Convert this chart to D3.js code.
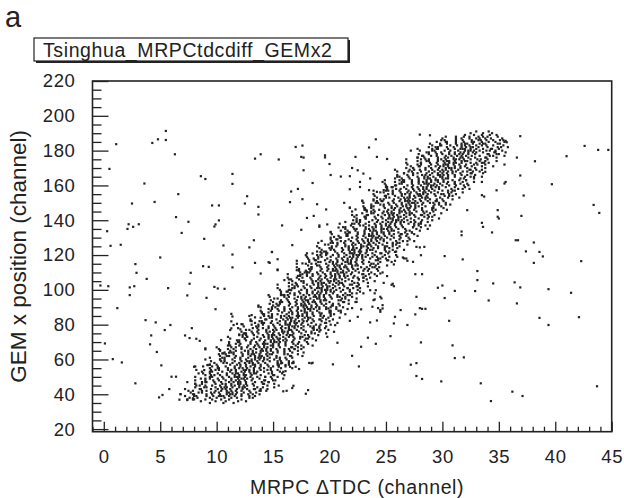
<!DOCTYPE html>
<html>
<head>
<meta charset="utf-8">
<script src="https://cdn.jsdelivr.net/npm/d3@7"></script>
<style>
body { margin: 0; background: #fff; }
svg text { font-family: "Liberation Sans", Arial, sans-serif; fill: #222; }
</style>
</head>
<body>
<div id="chart"></div>
<script>
var width = 624;
var height = 498;

let panelLabel = "a";
let histTitle = "Tsinghua_MRPCtdcdiff_GEMx2";
let xTitle = "MRPC \u0394TDC (channel)";
let yTitle = "GEM x position (channel)";

let xTickValues = [0, 5, 10, 15, 20, 25, 30, 35, 40, 45];
let yTickValues = [20, 40, 60, 80, 100, 120, 140, 160, 180, 200, 220];

// main correlation band, one row per GEM channel: [y, [ΔTDC values]]
let bandRows = [
[35,[10.6,11.5,9.4]],
[36,[8.6,9.9,10.8,11.9,12.6]],
[37,[7.9,9.0,9.6,10.4,11.1,12.2]],
[38,[8.3,9.4,10.0,10.7,11.3,11.8,12.9]],
[39,[8.2,9.1,9.7,10.2,10.6,11.1,11.6,12.2,12.9,10.4]],
[40,[8.0,9.1,9.6,10.3,10.9,11.2,11.7,12.2,12.8,11.4]],
[41,[8.7,9.5,10.2,10.9,11.1,11.8,12.4,13.0,9.8,11.4]],
[42,[9.1,9.9,10.4,10.9,11.3,11.7,12.2,12.9,13.8,7.9]],
[43,[8.6,10.1,10.5,11.2,11.8,12.3,12.7,13.3,9.5,10.8]],
[44,[9.1,9.9,10.4,10.9,11.4,12.0,12.5,13.6,10.7,12.3]],
[45,[8.5,9.6,10.3,10.8,11.6,12.0,12.4,13.3,11.3,12.7]],
[46,[8.1,9.9,10.5,11.3,11.9,12.1,12.6,13.2,14.1,10.8]],
[47,[9.8,10.4,11.1,11.5,12.1,12.6,13.4,14.6,9.0,11.9]],
[48,[9.7,10.2,11.3,12.0,12.5,13.1,14.2,10.8,11.7,15.2]],
[49,[9.0,10.1,10.6,11.3,11.9,12.2,12.7,13.2,13.8,12.4]],
[50,[9.6,10.5,11.1,11.6,12.0,12.5,13.0,13.6,14.3,11.8]],
[51,[10.3,10.9,11.6,12.0,12.6,13.1,13.9,15.1,9.5,12.4]],
[52,[10.1,10.9,11.4,11.9,12.4,13.0,13.5,14.6,11.7,13.3]],
[53,[9.4,10.5,11.2,11.7,12.5,12.9,13.3,14.2,12.2,13.6]],
[54,[10.2,11.0,11.7,12.4,12.6,13.3,13.9,14.5,11.3,12.9]],
[55,[10.1,11.6,12.0,12.7,13.3,13.8,14.2,14.8,11.0,12.3]],
[56,[10.8,11.6,12.1,12.6,13.0,13.4,13.9,14.6,15.5,9.6]],
[57,[9.4,11.2,11.8,12.6,13.2,13.4,13.9,14.5,15.4,12.1]],
[58,[10.9,11.4,12.5,13.2,13.7,14.3,15.4,12.0,12.9,16.4]],
[59,[10.7,11.6,12.2,12.7,13.1,13.6,14.1,14.7,15.4,12.9]],
[60,[10.3,11.4,12.1,12.6,13.4,13.8,14.2,15.1,13.1,14.5]],
[61,[10.5,11.6,12.1,12.8,13.4,13.7,14.2,14.7,15.3,13.9]],
[62,[11.7,12.3,13.0,13.4,14.0,14.5,15.3,16.5,10.9,13.8]],
[63,[11.5,12.3,12.8,13.3,13.8,14.4,14.9,16.0,13.1,14.7]],
[64,[11.3,12.8,13.2,13.9,14.5,15.0,15.4,16.0,12.2,13.5]],
[65,[11.7,12.5,13.2,13.9,14.1,14.8,15.4,16.0,12.8,14.4]],
[66,[12.2,13.0,13.5,14.0,14.4,14.8,15.3,16.0,16.9,11.0]],
[67,[12.2,12.7,13.8,14.5,15.0,15.6,16.7,13.3,14.2,17.7]],
[68,[11.0,12.8,13.4,14.2,14.8,15.0,15.5,16.1,17.0,13.7]],
[69,[12.1,13.0,13.6,14.1,14.5,15.0,15.5,16.1,16.8,14.3]],
[70,[11.9,13.0,13.5,14.2,14.8,15.1,15.6,16.1,16.7,15.3]],
[71,[12.0,13.1,13.8,14.3,15.1,15.5,15.9,16.8,14.8,16.2]],
[72,[13.3,13.9,14.6,15.0,15.6,16.1,16.9,18.1,12.5,15.4]],
[73,[12.7,14.2,14.6,15.3,15.9,16.4,16.8,17.4,13.6,14.9]],
[74,[13.3,14.1,14.6,15.1,15.6,16.2,16.7,17.8,14.9,16.5]],
[75,[13.7,14.5,15.0,15.5,15.9,16.3,16.8,17.5,18.4,12.5]],
[76,[13.6,14.4,15.1,15.8,16.0,16.7,17.3,17.9,14.7,16.3]],
[77,[12.6,14.4,15.0,15.8,16.4,16.6,17.1,17.7,18.6,15.3]],
[78,[14.1,14.6,15.7,16.4,16.9,17.5,18.6,15.2,16.1,19.6]],
[79,[13.5,14.6,15.1,15.8,16.4,16.7,17.2,17.7,18.3,16.9]],
[80,[14.1,15.0,15.6,16.1,16.5,17.0,17.5,18.1,18.8,16.3]],
[81,[14.8,15.4,16.1,16.5,17.1,17.6,18.4,19.6,14.0,16.9]],
[82,[13.8,14.9,15.6,16.1,16.9,17.3,17.7,18.6,16.6,18.0]],
[83,[14.4,15.9,16.3,17.0,17.6,18.1,18.5,19.1,15.3,16.6]],
[84,[14.9,15.7,16.2,16.7,17.2,17.8,18.3,19.4,16.5,18.1]],
[85,[14.9,15.7,16.4,17.1,17.3,18.0,18.6,19.2,16.0,17.6]],
[86,[15.4,16.2,16.7,17.2,17.6,18.0,18.5,19.2,20.1,14.2]],
[87,[14.0,15.8,16.4,17.2,17.8,18.0,18.5,19.1,20.0,16.7]],
[88,[15.5,16.0,17.1,17.8,18.3,18.9,20.0,16.6,17.5,21.0]],
[89,[14.9,16.0,16.5,17.2,17.8,18.1,18.6,19.1,19.7,18.3]],
[90,[14.9,16.0,16.7,17.2,18.0,18.4,18.8,19.7,17.7,19.1]],
[91,[15.5,16.4,17.0,17.5,17.9,18.4,18.9,19.5,20.2,17.7]],
[92,[15.6,17.1,17.5,18.2,18.8,19.3,19.7,20.3,16.5,17.8]],
[93,[16.4,17.0,17.7,18.1,18.7,19.2,20.0,21.2,15.6,18.5]],
[94,[16.3,17.1,17.6,18.1,18.6,19.2,19.7,20.8,17.9,19.5]],
[95,[15.1,16.9,17.5,18.3,18.9,19.1,19.6,20.2,21.1,17.8]],
[96,[16.4,17.2,17.9,18.6,18.8,19.5,20.1,20.7,17.5,19.1]],
[97,[16.9,17.7,18.2,18.7,19.1,19.5,20.0,20.7,21.6,15.7]],
[98,[16.9,17.4,18.5,19.2,19.7,20.3,21.4,18.0,18.9,22.4]],
[99,[16.2,17.3,18.0,18.5,19.3,19.7,20.1,21.0,19.0,20.4]],
[100,[16.4,17.5,18.0,18.7,19.3,19.6,20.1,20.6,21.2,19.8]],
[101,[16.9,17.8,18.4,18.9,19.3,19.8,20.3,20.9,21.6,19.1]],
[102,[17.7,18.3,19.0,19.4,20.0,20.5,21.3,22.5,16.9,19.8]],
[103,[17.1,18.6,19.0,19.7,20.3,20.8,21.2,21.8,18.0,19.3]],
[104,[17.7,18.5,19.0,19.5,20.0,20.6,21.1,22.2,19.3,20.9]],
[105,[17.7,18.5,19.2,19.9,20.1,20.8,21.4,22.0,18.8,20.4]],
[106,[16.6,18.4,19.0,19.8,20.4,20.6,21.1,21.7,22.6,19.3]],
[107,[18.3,19.1,19.6,20.1,20.5,20.9,21.4,22.1,23.0,17.1]],
[108,[17.4,18.5,19.2,19.7,20.5,20.9,21.3,22.2,20.2,21.6]],
[109,[18.5,19.0,20.1,20.8,21.3,21.9,23.0,19.6,20.5,24.0]],
[110,[17.8,18.9,19.4,20.1,20.7,21.0,21.5,22.0,22.6,21.2]],
[111,[18.3,19.2,19.8,20.3,20.7,21.2,21.7,22.3,23.0,20.5]],
[112,[18.4,19.9,20.3,21.0,21.6,22.1,22.5,23.1,19.3,20.6]],
[113,[19.2,19.8,20.5,20.9,21.5,22.0,22.8,24.0,18.4,21.3]],
[114,[19.1,19.9,20.4,20.9,21.4,22.0,22.5,23.6,20.7,22.3]],
[115,[17.9,19.7,20.3,21.1,21.7,21.9,22.4,23.0,23.9,20.6]],
[116,[19.2,20.0,20.7,21.4,21.6,22.3,22.9,23.5,20.3,21.9]],
[117,[19.6,20.1,21.2,21.9,22.4,23.0,24.1,20.7,21.6,25.1]],
[118,[19.8,20.6,21.1,21.6,22.0,22.4,22.9,23.6,24.5,18.6]],
[119,[19.0,20.1,20.8,21.3,22.1,22.5,22.9,23.8,21.8,23.2]],
[120,[19.2,20.3,20.8,21.5,22.1,22.4,22.9,23.4,24.0,22.6]],
[121,[19.8,20.7,21.3,21.8,22.2,22.7,23.2,23.8,24.5,22.0]],
[122,[20.5,21.1,21.8,22.2,22.8,23.3,24.1,25.3,19.7,22.6]],
[123,[20.4,21.2,21.7,22.2,22.7,23.3,23.8,24.9,22.0,23.6]],
[124,[20.2,21.7,22.1,22.8,23.4,23.9,24.3,24.9,21.1,22.4]],
[125,[20.6,21.4,22.1,22.8,23.0,23.7,24.3,24.9,21.7,23.3]],
[126,[19.6,21.4,22.0,22.8,23.4,23.6,24.1,24.7,25.6,22.3]],
[127,[21.3,22.1,22.6,23.1,23.5,23.9,24.4,25.1,26.0,20.1]],
[128,[21.4,21.9,23.0,23.7,24.2,24.8,25.9,22.5,23.4,26.9]],
[129,[20.6,21.7,22.4,22.9,23.7,24.1,24.5,25.4,23.4,24.8]],
[130,[20.9,22.0,22.5,23.2,23.8,24.1,24.6,25.1,25.7,24.3]],
[131,[21.5,22.4,23.0,23.5,23.9,24.4,24.9,25.5,26.2,23.7]],
[132,[21.6,23.1,23.5,24.2,24.8,25.3,25.7,26.3,22.5,23.8]],
[133,[22.5,23.1,23.8,24.2,24.8,25.3,26.1,27.3,21.7,24.6]],
[134,[22.3,23.1,23.6,24.1,24.6,25.2,25.7,26.8,23.9,25.5]],
[135,[22.4,23.2,23.9,24.6,24.8,25.5,26.1,26.7,23.5,25.1]],
[136,[21.4,23.2,23.8,24.6,25.2,25.4,25.9,26.5,27.4,24.1]],
[137,[23.0,23.5,24.6,25.3,25.8,26.4,27.5,24.1,25.0,28.5]],
[138,[23.2,24.0,24.5,25.0,25.4,25.8,26.3,27.0,27.9,22.0]],
[139,[22.4,23.5,24.2,24.7,25.5,25.9,26.3,27.2,25.2,26.6]],
[140,[22.7,23.8,24.3,25.0,25.6,25.9,26.4,26.9,27.5,26.1]],
[141,[23.2,24.1,24.7,25.2,25.6,26.1,26.6,27.2,27.9,25.4]],
[142,[24.0,24.6,25.3,25.7,26.3,26.8,27.6,28.8,23.2,26.1]],
[143,[23.4,24.9,25.3,26.0,26.6,27.1,27.5,28.1,24.3,25.6]],
[144,[23.9,24.7,25.2,25.7,26.2,26.8,27.3,28.4,25.5,27.1]],
[145,[24.0,24.8,25.5,26.2,26.4,27.1,27.7,28.3,25.1,26.7]],
[146,[24.4,25.2,25.7,26.2,26.6,27.0,27.5,28.2,29.1,23.2]],
[147,[23.1,24.9,25.5,26.3,26.9,27.1,27.6,28.2,29.1,25.8]],
[148,[23.7,24.8,25.5,26.0,26.8,27.2,27.6,28.5,26.5,27.9]],
[149,[24.8,25.3,26.4,27.1,27.6,28.2,29.3,25.9,26.8,30.3]],
[150,[24.1,25.2,25.7,26.4,27.0,27.3,27.8,28.3,28.9,27.5]],
[151,[24.7,25.6,26.2,26.7,27.1,27.6,28.1,28.7,29.4,26.9]],
[152,[24.8,26.3,26.7,27.4,28.0,28.5,28.9,29.5,25.7,27.0]],
[153,[25.3,26.1,26.6,27.1,27.6,28.2,28.7,29.8,26.9,28.5]],
[154,[25.8,26.4,27.1,27.5,28.1,28.6,29.4,30.6,25.0,27.9]],
[155,[25.6,26.4,27.1,27.8,28.0,28.7,29.3,29.9,26.7,28.3]],
[156,[24.5,26.3,26.9,27.7,28.3,28.5,29.0,29.6,30.5,27.2]],
[157,[26.2,27.0,27.5,28.0,28.4,28.8,29.3,30.0,30.9,25.0]],
[158,[26.3,26.8,27.9,28.6,29.1,29.7,30.8,27.4,28.3,31.8]],
[159,[25.5,26.6,27.3,27.8,28.6,29.0,29.4,30.3,28.3,29.7]],
[160,[25.8,26.9,27.4,28.1,28.7,29.0,29.5,30.0,30.6,29.2]],
[161,[26.4,27.3,27.9,28.4,28.8,29.3,29.8,30.4,31.1,28.6]],
[162,[26.4,27.9,28.3,29.0,29.6,30.1,30.5,31.1,27.3,28.6]],
[163,[27.3,27.9,28.6,29.0,29.6,30.1,30.9,32.1,26.5,29.4]],
[164,[27.1,27.9,28.4,28.9,29.4,30.0,30.5,31.6,28.7,30.3]],
[165,[26.0,27.8,28.4,29.2,29.8,30.0,30.5,31.1,32.0,28.7]],
[166,[27.4,28.2,28.9,29.6,29.8,30.5,31.1,31.7,28.5,30.1]],
[167,[27.8,28.6,29.1,29.6,30.0,30.4,30.9,31.6,32.5,26.6]],
[168,[27.0,28.1,28.8,29.3,30.1,30.5,30.9,31.8,29.8,31.2]],
[169,[28.0,28.5,29.6,30.3,30.8,31.4,32.5,29.1,30.0,33.5]],
[170,[27.4,28.5,29.0,29.7,30.3,30.6,31.1,31.6,32.2,30.8]],
[171,[27.9,29.4,29.8,30.5,31.1,31.6,32.0,32.6,28.8,30.1]],
[172,[28.1,29.0,29.6,30.1,30.5,31.0,31.5,32.1,32.8,30.3]],
[173,[28.9,29.5,30.2,30.6,31.2,31.7,32.5,33.7,28.1,31.0]],
[174,[28.8,29.6,30.1,30.6,31.1,31.7,32.2,33.3,30.4,32.0]],
[175,[28.8,29.6,30.3,31.0,31.2,31.9,32.5,33.1,29.9,31.5]],
[176,[27.8,29.6,30.2,31.0,31.6,31.8,32.3,32.9,33.8,30.5]],
[177,[29.5,30.3,30.8,31.3,31.7,32.1,32.6,33.3,34.2,28.3]],
[178,[29.5,30.0,31.1,31.8,32.3,32.9,34.0,30.6,31.5,35.0]],
[179,[28.8,29.9,30.6,31.1,31.9,32.3,32.7,33.6,31.6,33.0]],
[180,[29.1,30.2,30.7,31.4,32.0,32.3,32.8,33.3,33.9,32.5]],
[181,[29.6,30.5,31.1,31.6,32.0,32.5,33.0,33.6,34.3,31.8]],
[182,[30.4,31.0,31.7,32.1,32.7,33.2,34.0,35.2,29.6,32.5]],
[183,[29.8,31.3,31.7,32.4,33.0,33.5,33.9,34.5,30.7,32.0]],
[184,[30.4,31.2,31.7,32.2,32.7,33.3,33.8,34.9,32.0,33.6]],
[185,[30.4,31.2,31.9,32.6,32.8,33.5,34.1,34.7]],
[186,[31.2,31.8,32.6,33.2,33.4,33.9,34.5,35.4]],
[187,[31.2,31.7,32.4,33.0,33.3,33.8,34.3]],
[188,[31.2,31.9,32.4,33.2,33.6,34.0]],
[189,[32.0,32.8,33.5,34.2,34.8]],
[190,[32.5,33.6,34.4]],
[191,[33.0,34.1]]
];

// thinner edges of the band on both sides: [y, [ΔTDC values]]
let bandFringe = [
[38,[7.6,13.2]],[39,[8.0,13.4,7.2]],[40,[7.9,13.2,13.8]],[41,[7.7,8.4,13.5]],[42,[7.5,8.7,13.9,14.4]],
[43,[7.2,8.5,13.4,13.9,14.5]],[44,[8.1,8.9,14.1,15.1]],[45,[9.0,8.2,14.5,15.5]],[46,[8.7,8.1,14.2,15.1]],[47,[7.4,8.7,14.0,14.6,9.1]],
[48,[8.1,9.0,14.3,15.0]],[49,[9.4,8.6,14.9,15.9]],[50,[8.1,9.4,14.3,14.8,15.4]],[51,[9.0,9.8,15.0,16.0]],[52,[9.4,8.8,14.9,15.8]],
[53,[8.7,9.6,14.9,15.6]],[54,[8.2,9.5,14.8,15.4,9.9]],[55,[10.2,9.4,15.7,16.7]],[56,[8.8,10.1,15.0,15.5,16.1]],[57,[10.0,9.4,15.5,16.4]],
[58,[9.8,10.6,15.8,16.8]],[59,[9.5,10.4,15.7,16.4]],[60,[9.0,10.3,15.6,16.2,10.7]],[61,[9.4,10.7,15.6,16.1,16.7]],[62,[11.1,10.3,16.6,17.6]],
[63,[10.8,10.2,16.3,17.2]],[64,[10.7,11.5,16.7,17.7]],[65,[10.3,11.2,16.5,17.2]],[66,[10.2,11.5,16.4,16.9,17.5]],[67,[10.0,11.3,16.6,17.2,11.7]],
[68,[12.0,11.2,17.5,18.5]],[69,[11.7,11.1,17.2,18.1]],[70,[11.1,12.0,17.3,18.0]],[71,[11.8,12.6,17.8,18.8]],[72,[11.2,12.5,17.4,17.9,18.5]],
[73,[11.0,12.3,17.6,18.2,12.7]],[74,[12.6,12.0,18.1,19.0]],[75,[13.2,12.4,18.7,19.7]],[76,[12.2,13.1,18.4,19.1]],[77,[12.9,13.7,18.9,19.9]],
[78,[11.9,13.2,18.5,19.1,13.6]],[79,[12.4,13.7,18.6,19.1,19.7]],[80,[13.7,13.1,19.2,20.1]],[81,[14.2,13.4,19.7,20.7]],[82,[13.1,14.0,19.3,20.0]],
[83,[13.0,14.3,19.2,19.7,20.3]],[84,[13.9,14.7,19.9,20.9]],[85,[12.9,14.2,19.5,20.1,14.6]],[86,[14.9,14.1,20.4,21.4]],[87,[14.6,14.0,20.1,21.0]],
[88,[13.9,14.8,20.1,20.8]],[89,[14.6,15.4,20.6,21.6]],[90,[13.9,15.2,20.1,20.6,21.2]],[91,[13.7,15.0,20.3,20.9,15.4]],[92,[15.3,14.7,20.8,21.7]],
[93,[15.8,15.0,21.3,22.3]],[94,[14.8,15.7,21.0,21.7]],[95,[15.4,16.2,21.4,22.4]],[96,[14.7,16.0,20.9,21.4,22.0]],[97,[14.6,15.9,21.2,21.8,16.3]],
[98,[16.5,15.7,22.0,23.0]],[99,[16.3,15.7,21.8,22.7]],[100,[15.6,16.5,21.8,22.5]],[101,[15.4,16.7,21.6,22.1,22.7]],[102,[16.4,17.2,22.4,23.4]],
[103,[15.4,16.7,22.0,22.6,17.1]],[104,[17.0,16.4,22.5,23.4]],[105,[17.5,16.7,23.0,24.0]],[106,[16.4,17.3,22.6,23.3]],[107,[16.3,17.6,22.5,23.0,23.6]],
[108,[17.2,18.0,23.2,24.2]],[109,[16.3,17.6,22.9,23.5,18.0]],[110,[18.2,17.4,23.7,24.7]],[111,[17.9,17.3,23.4,24.3]],[112,[17.3,18.2,23.5,24.2]],
[113,[17.1,18.4,23.3,23.8,24.4]],[114,[18.1,18.9,24.1,25.1]],[115,[17.1,18.4,23.7,24.3,18.8]],[116,[19.0,18.2,24.5,25.5]],[117,[18.8,18.2,24.3,25.2]],
[118,[18.1,19.0,24.3,25.0]],[119,[18.0,19.3,24.2,24.7,25.3]],[120,[18.9,19.7,24.9,25.9]],[121,[18.0,19.3,24.6,25.2,19.7]],[122,[19.5,18.9,25.0,25.9]],
[123,[20.1,19.3,25.6,26.6]],[124,[19.1,20.0,25.3,26.0]],[125,[18.9,20.2,25.1,25.6,26.2]],[126,[19.9,20.7,25.9,26.9]],[127,[19.0,20.3,25.6,26.2,20.7]],
[128,[21.0,20.2,26.5,27.5]],[129,[20.7,20.1,26.2,27.1]],[130,[20.1,21.0,26.3,27.0]],[131,[20.8,21.6,26.8,27.8]],[132,[20.2,21.5,26.4,26.9,27.5]],
[133,[20.1,21.4,26.7,27.3,21.8]],[134,[21.6,21.0,27.1,28.0]],[135,[22.2,21.4,27.7,28.7]],[136,[21.2,22.1,27.4,28.1]],[137,[21.9,22.7,27.9,28.9]],
[138,[20.9,22.2,27.5,28.1,22.6]],[139,[21.4,22.7,27.6,28.1,28.7]],[140,[22.7,22.1,28.2,29.1]],[141,[23.2,22.4,28.7,29.7]],[142,[22.2,23.1,28.4,29.1]],
[143,[22.0,23.3,28.2,28.7,29.3]],[144,[22.9,23.7,28.9,29.9]],[145,[22.0,23.3,28.6,29.2,23.7]],[146,[23.9,23.1,29.4,30.4]],[147,[23.7,23.1,29.2,30.1]],
[148,[23.0,23.9,29.2,29.9]],[149,[23.7,24.5,29.7,30.7]],[150,[23.0,24.3,29.2,29.7,30.3]],[151,[22.9,24.2,29.5,30.1,24.6]],[152,[24.5,23.9,30.0,30.9]],
[153,[25.0,24.2,30.5,31.5]],[154,[24.0,24.9,30.2,30.9]],[155,[23.9,25.2,30.1,30.6,31.2]],[156,[24.8,25.6,30.8,31.8]],[157,[23.9,25.2,30.5,31.1,25.6]],
[158,[25.9,25.1,31.4,32.4]],[159,[25.6,25.0,31.1,32.0]],[160,[25.0,25.9,31.2,31.9]],[161,[24.9,26.2,31.1,31.6,32.2]],[162,[25.8,26.6,31.8,32.8]],
[163,[24.9,26.2,31.5,32.1,26.6]],[164,[26.4,25.8,31.9,32.8]],[165,[27.0,26.2,32.5,33.5]],[166,[26.0,26.9,32.2,32.9]],[167,[26.6,27.4,32.6,33.6]],
[168,[26.0,27.3,32.2,32.7,33.3]],[169,[25.8,27.1,32.4,33.0,27.5]],[170,[27.4,26.8,32.9,33.8]],[171,[28.0,27.2,33.5,34.5]],[172,[26.9,27.8,33.1,33.8]],
[173,[26.8,28.1,33.0,33.5,34.1]],[174,[27.8,28.6,33.8,34.8]],[175,[26.8,28.1,33.4,34.0,28.5]],[176,[28.4,27.8,33.9,34.8]],[177,[29.0,28.2,34.5,35.5]],
[178,[27.9,28.8,34.1,34.8]],[179,[28.6,29.4,34.6,35.6]],[180,[28.0,29.3,34.2,34.7,35.3]],[181,[27.8,29.1,34.4,35.0,29.5]],[182,[29.4,28.8,34.9,35.8]],
[183,[29.9,29.1,35.4]],[184,[28.9,29.8,35.1]],[185,[29.5,30.3,35.5]],[186,[29.9,30.2,35.1]],[187,[30.0,35.3]],[188,[30.3,34.9]]
];

// background hits and halo around the band: [ΔTDC, GEM x]
let sparsePoints = [
[1.1,183.7],[0.5,169.5],[4.3,184.4],[4.8,186.5],[5.5,191.3],[5.5,186.1],[6.3,177.9],[3.6,161.1],[6.6,155.0],[2.5,149.6],
[4.5,150.5],[0.3,133.7],[2.2,137.7],[2.6,136.2],[3.1,137.7],[2.1,135.0],[6.4,141.8],[7.5,139.1],[6.9,132.7],[8.6,165.3],
[9.0,163.7],[9.6,148.5],[10.2,148.5],[9.9,137.6],[10.2,139.9],[9.8,136.4],[8.9,129.3],[11.4,166.6],[11.4,160.9],[12.7,153.8],
[12.5,149.6],[13.7,147.7],[13.7,143.3],[13.4,175.4],[13.9,177.9],[15.5,174.9],[15.8,137.0],[17.0,182.1],[17.6,182.9],[17.5,176.4],
[17.7,176.0],[17.7,168.7],[16.6,156.5],[17.2,158.0],[17.6,152.1],[16.5,150.4],[18.5,161.4],[18.9,149.2],[18.6,142.5],[18.0,141.3],
[19.7,146.2],[19.1,137.0],[17.5,134.5],[19.6,177.3],[19.6,176.1],[20.0,172.3],[20.1,166.0],[21.0,165.1],[21.8,165.3],[22.3,176.4],
[22.5,168.7],[21.8,157.8],[21.3,150.0],[21.8,147.1],[22.3,146.2],[13.3,128.5],
[24.1,186.5],[23.5,181.8],[24.2,176.4],[25.1,175.2],[27.2,180.0],[28.0,189.2],[28.9,188.8],[22.0,170.0],[36.6,176.0],[38.2,173.9],
[36.9,188.3],[35.5,172.0],[35.6,185.6],[35.7,184.8],[36.9,165.7],[35.5,161.1],[33.7,153.6],[37.2,154.2],[39.7,160.7],[41.0,176.8],
[42.6,182.7],[43.8,180.4],[44.7,180.4],[43.4,148.8],[43.9,144.2],[32.2,145.8],[33.5,138.5],[34.9,145.8],[34.9,142.0],[37.0,142.5],
[31.7,133.5],[31.7,131.4],[34.4,133.0],
[27.7,124.7],[28.0,124.4],[28.4,124.7],[28.1,119.9],[30.2,119.4],[31.8,117.5],[36.5,128.5],[36.7,128.5],[38.1,127.2],[37.4,122.1],
[38.6,121.8],[38.9,119.2],[38.1,115.5],[42.3,116.5],[33.1,110.8],[33.1,105.6],[34.5,103.7],[36.4,104.3],[36.9,101.4],[39.4,100.4],
[41.4,98.3],[42.1,84.3],[38.6,83.9],[39.4,79.8],[36.6,92.2],[34.1,93.9],[32.9,99.3],[29.6,101.2],[30.0,102.5],[31.1,99.4],
[30.2,95.3],[27.6,109.0],[28.2,109.0],[27.6,85.9],[28.0,89.5],[28.2,89.1],[28.5,89.1],[25.8,84.5],[30.6,82.2],[28.1,69.8],
[30.9,68.1],[31.1,60.8],[31.9,61.2],[27.2,57.0],[27.7,57.9],[27.7,50.5],[28.2,48.8],[29.9,47.4],[33.4,46.3],[34.3,36.1],
[36.2,41.5],[37.1,39.0],[43.7,44.6],[25.4,73.4],[24.1,69.0],[23.4,72.5],[22.8,67.3],[22.0,62.1],[22.6,56.0],[23.6,81.3],
[24.2,82.4],[22.5,84.5],[21.8,82.2],[24.5,87.4],[24.7,89.3],[24.3,89.5],[23.8,90.3],[22.8,88.8],[22.0,89.5],[25.5,102.9],
[25.6,103.5],[25.7,114.6],[25.8,116.7],[26.8,118.0],[26.5,118.6],[24.8,104.0],[24.5,109.4],[24.0,94.5],[24.6,95.1],[24.0,98.0],
[23.6,99.8],[22.4,93.1],
[0.6,125.3],[1.5,125.9],[5.0,118.6],[10.6,125.5],[11.4,120.3],[12.9,124.4],[13.4,115.5],[13.9,109.4],[14.9,121.7],[14.7,115.5],
[15.4,111.7],[16.7,125.7],[2.8,114.8],[2.9,109.8],[3.8,106.3],[2.3,101.4],[2.7,102.1],[2.3,97.0],[-0.3,102.5],[0.4,102.1],
[1.2,89.5],[0.1,69.2],[0.8,60.2],[1.6,58.3],[2.8,46.3],[3.7,82.6],[4.6,81.3],[4.2,73.8],[4.1,68.7],[4.7,64.3],
[5.1,56.6],[5.9,79.8],[5.4,76.9],[5.7,101.0],[7.7,109.8],[7.6,103.5],[8.8,113.6],[9.3,113.2],[9.8,101.7],[10.1,100.8],
[10.7,100.6],[7.4,96.8],[9.1,95.4],[9.9,88.9],[7.8,78.0],[7.2,73.8],[7.6,72.3],[8.2,71.9],[8.5,70.7],[9.0,66.4],
[8.1,56.0],[9.2,56.8],[6.0,50.1],[6.4,50.1],[5.8,43.0],[4.9,38.2],[5.2,39.6],[6.8,40.1],[6.7,36.9],[7.4,36.7],
[8.0,37.1],[11.3,86.2],[11.4,84.7],[11.3,81.9],[11.8,80.5],[12.3,80.2],[12.0,74.4],[11.3,77.9],[10.4,71.1],[10.5,63.5],
[15.9,41.7],[16.2,42.0],[16.8,44.9],[16.7,43.6],[17.9,40.3],[18.1,42.4],[18.4,57.8],[20.3,57.2],[20.7,69.6],[16.5,55.8],
[16.7,57.9],[17.3,54.5],[16.1,53.3],[11.4,112.9],
[21.8,147.3],[22.4,142.9],[19.1,136.2],[19.8,137.6],[20.1,133.3],[19.3,128.1],[20.4,130.4],[20.8,135.8],[14.9,121.8],[15.4,117.6],
[14.6,115.9],[17.1,116.7],[17.6,115.2],[17.9,119.9],[18.5,120.9],[19.2,121.7],[18.7,117.1],[15.4,111.3],[16.0,105.6],[17.1,111.3],
[17.4,108.5],[18.0,110.3],[16.6,99.8],[16.0,97.0],[25.8,121.8],[26.0,119.0],[26.6,118.1],[26.9,116.7],[27.4,116.1],[25.1,107.9],
[25.7,102.1],[24.1,99.8],[24.5,96.0],[23.9,94.1],[24.7,91.2],[24.5,88.4],[25.7,80.7],[26.9,79.8],[26.3,88.4],[27.7,96.0],
[13.1,85.5],[13.4,84.2],[13.0,82.2],[13.7,90.3],[11.2,76.9],[11.5,79.8],[12.2,80.3],[12.1,77.3],[12.6,75.0],[12.3,74.0],
[9.0,65.8],[10.3,65.4],[10.6,63.5],[11.1,63.9],[8.0,55.8],[8.4,52.0],[8.9,53.9],[9.2,56.8],[6.8,40.0],[7.4,37.1],
[7.9,37.7],[15.7,57.8],[16.1,56.8],[16.8,58.7],[17.0,55.8],[15.9,52.9],[18.5,58.1],[18.2,58.0],[19.2,76.9],[19.8,73.0],
[20.4,75.9],[20.5,79.7],[19.3,86.5],[19.9,89.3],[23.0,166.8],[22.7,162.0],[22.7,159.1],[23.6,164.0],[23.5,157.3],[24.7,162.0],
[24.2,156.3],[24.8,157.3],[25.1,159.1],[22.4,139.9],[23.3,145.6],[23.9,151.3],[22.9,151.3],[34.7,179.2],[33.8,167.8],[33.5,162.0],
[32.8,164.9],[32.3,160.1],[33.5,154.4],[34.8,157.2],[35.6,162.0],[35.0,141.0],[33.6,136.2]
];

var svg = d3.select("#chart")
            .append("svg")
              .attr("width", width).attr("height", height);

let xScale = d3.scaleLinear().domain([-1, 45]).range([92.5, 611.7]);
let yScale = d3.scaleLinear().domain([18.5, 220]).range([431.7, 81]);

let rowsToPoints = rows => rows.flatMap(r => r[1].map(x => [x, r[0]]));
let points = rowsToPoints(bandRows).concat(rowsToPoints(bandFringe), sparsePoints);

// scatter dots
svg.append("g").selectAll(".dot").data(points)
    .join("rect")
    .attr("class", "dot")
    .attr("x", d => xScale(d[0]) - 1.1)
    .attr("y", d => yScale(d[1]) - 1.1)
    .attr("width", 2.2).attr("height", 2.2)
    .attr("fill", "#222");

// frame
let [x0, x1] = xScale.range();
let [y0, y1] = yScale.range();
svg.append("rect")
    .attr("x", x0).attr("y", y1)
    .attr("width", x1 - x0).attr("height", y0 - y1)
    .attr("fill", "none").attr("stroke", "#222").attr("stroke-width", 1.6);

function styleAxis(g) {
    g.select(".domain").remove();
    g.attr("font-family", null).attr("font-size", null).attr("color", "#222");
    g.selectAll("line").attr("stroke-width", 1.3);
    g.selectAll("text").attr("font-size", 18.5).attr("letter-spacing", 0.6);
}

let xMinor = d3.range(-1, 46).filter(v => v % 5 != 0);
let yMinor = d3.range(20, 221, 5).filter(v => v % 20 != 0);

svg.append("g").attr("transform", `translate(0,${y0})`)
    .call(d3.axisBottom(xScale).tickValues(xMinor).tickSize(-5).tickFormat(""))
    .call(styleAxis);
svg.append("g").attr("transform", `translate(0,${y0})`)
    .call(d3.axisBottom(xScale).tickValues(xTickValues).tickSize(-10).tickPadding(18))
    .call(styleAxis);

svg.append("g").attr("transform", `translate(${x0},0)`)
    .call(d3.axisLeft(yScale).tickValues(yMinor).tickSize(-9).tickFormat(""))
    .call(styleAxis);
svg.append("g").attr("transform", `translate(${x0},0)`)
    .call(d3.axisLeft(yScale).tickValues(yTickValues).tickSize(-16).tickPadding(17))
    .call(styleAxis);

// axis titles
svg.append("text")
    .attr("x", (x0 + x1) / 2 + 5).attr("y", 494)
    .attr("text-anchor", "middle")
    .attr("font-size", 19.5).attr("letter-spacing", 0.6)
    .text(xTitle);

svg.append("text")
    .attr("transform", `translate(26,${(y0 + y1) / 2}) rotate(-90)`)
    .attr("text-anchor", "middle")
    .attr("font-size", 22.5)
    .text(yTitle);

// histogram title box with shadow
svg.append("rect").attr("x", 36).attr("y", 40).attr("width", 314).attr("height", 23).attr("fill", "#222");
svg.append("rect").attr("x", 34).attr("y", 38).attr("width", 314).attr("height", 23)
    .attr("fill", "#fff").attr("stroke", "#222").attr("stroke-width", 1.2);
svg.append("text")
    .attr("x", 43).attr("y", 56.5)
    .attr("font-size", 19.5).attr("letter-spacing", 0.6)
    .text(histTitle);

svg.append("text")
    .attr("x", 5).attr("y", 26.5)
    .attr("font-size", 29)
    .text(panelLabel);
</script>
</body>
</html>
